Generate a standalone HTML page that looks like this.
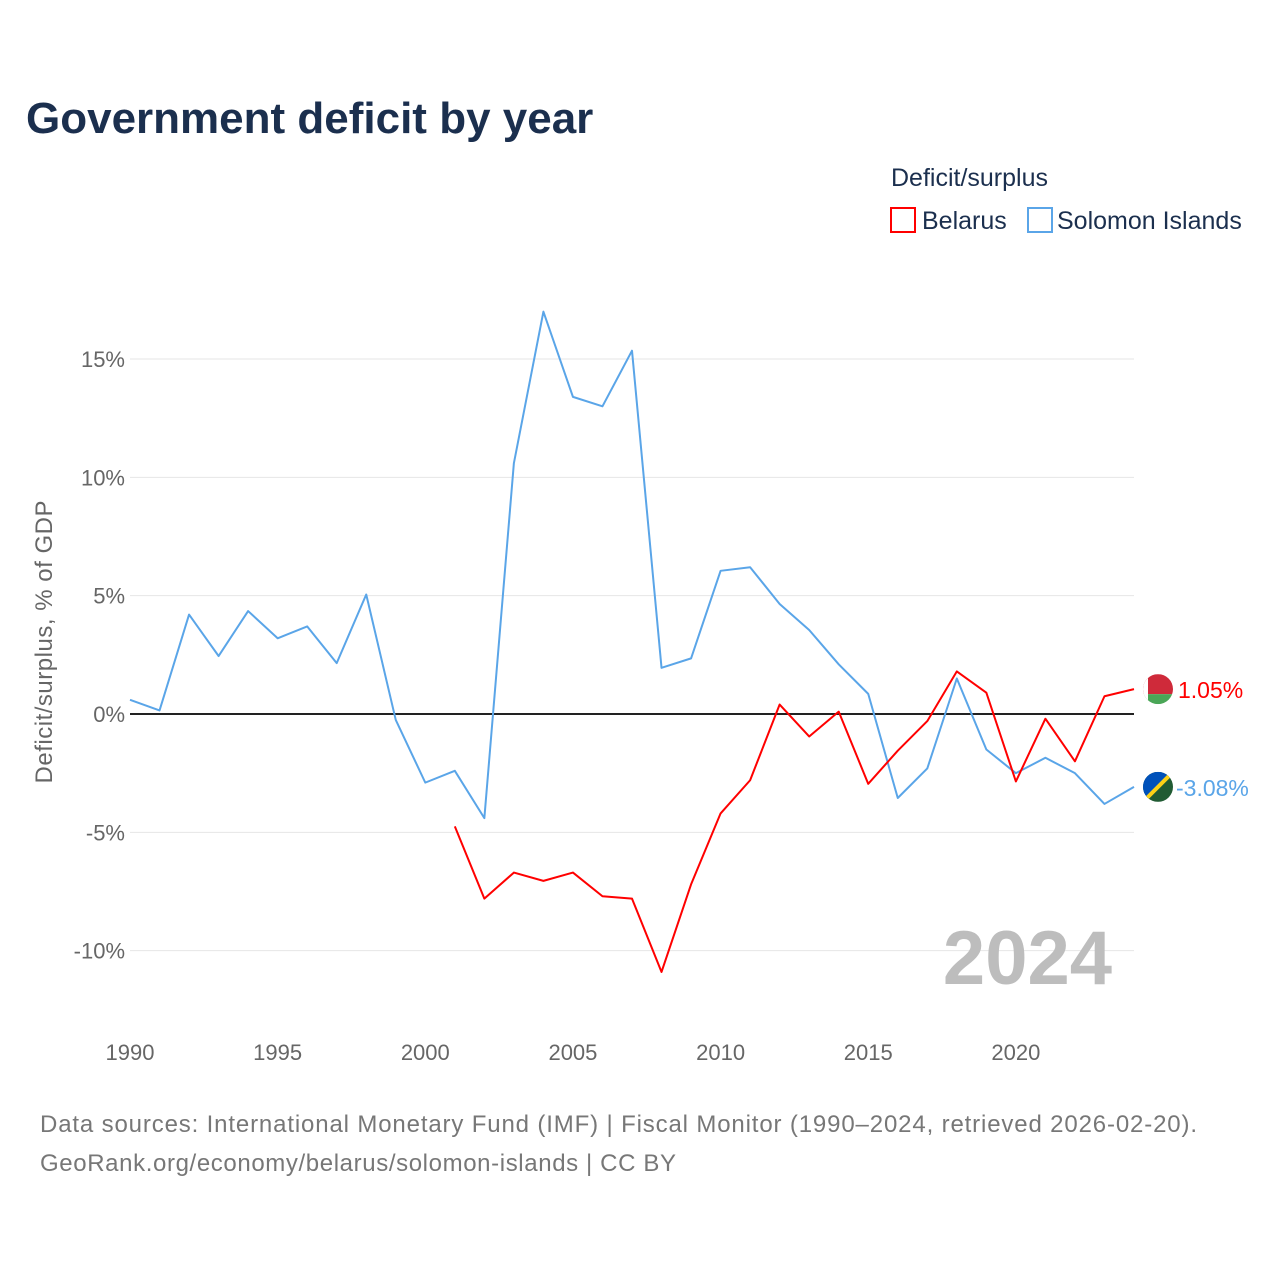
<!DOCTYPE html>
<html><head><meta charset="utf-8"><style>
body{margin:0;background:#fff;font-family:"Liberation Sans",sans-serif;}
svg text{font-family:"Liberation Sans",sans-serif;}
</style></head><body>
<svg id="chart" width="1280" height="1280" viewBox="0 0 1280 1280">
<text x="26" y="133" font-size="44" font-weight="bold" fill="#1b2f4e">Government deficit by year</text>
<text x="891" y="186" font-size="25" fill="#1b2f4e">Deficit/surplus</text>
<g><rect x="891" y="208" width="24" height="24" fill="none" stroke="#ff0000" stroke-width="2"/><text x="922" y="229" font-size="25" fill="#1b2f4e">Belarus</text></g>
<g><rect x="1028" y="208" width="24" height="24" fill="none" stroke="#5aa5e8" stroke-width="2"/><text x="1057" y="229" font-size="25" fill="#1b2f4e">Solomon Islands</text></g>
<g id="grid"></g>
<g id="yticks"></g>
<g id="xticks"></g>
<text transform="translate(52,642) rotate(-90)" text-anchor="middle" font-size="24" fill="#666" textLength="283">Deficit/surplus, % of GDP</text>
<text x="1112" y="984" text-anchor="end" font-size="76" font-weight="bold" fill="#bdbdbd">2024</text>
<g id="series"></g>
<text x="40" y="1132" font-size="24" fill="#777" textLength="1157">Data sources: International Monetary Fund (IMF) | Fiscal Monitor (1990–2024, retrieved 2026-02-20).</text>
<text x="40" y="1171" font-size="24" fill="#777" textLength="636">GeoRank.org/economy/belarus/solomon-islands | CC BY</text>
</svg>
<script>
const years=[];for(let y=1990;y<=2024;y++)years.push(y);
const solomon=[0.6,0.15,4.2,2.45,4.35,3.2,3.7,2.15,5.05,-0.25,-2.9,-2.4,-4.4,10.6,17.0,13.4,13.0,15.35,1.95,2.35,6.05,6.2,4.65,3.55,2.1,0.85,-3.55,-2.3,1.5,-1.5,-2.5,-1.85,-2.5,-3.8,-3.08];
const belarusYears=[2001,2002,2003,2004,2005,2006,2007,2008,2009,2010,2011,2012,2013,2014,2015,2016,2017,2018,2019,2020,2021,2022,2023,2024];
const belarus=[-4.75,-7.8,-6.7,-7.05,-6.7,-7.7,-7.8,-10.9,-7.2,-4.2,-2.8,0.4,-0.95,0.1,-2.95,-1.55,-0.3,1.8,0.9,-2.85,-0.2,-2.0,0.75,1.05];
const yTicks=[-10,-5,0,5,10,15];
const xTicks=[1990,1995,2000,2005,2010,2015,2020];
const X=y=>130+(y-1990)*(1134-130)/34;
const Y=v=>714-v*(355/15);
const NS="http://www.w3.org/2000/svg";
function mk(t,a,p){const e=document.createElementNS(NS,t);for(const k in a)e.setAttribute(k,a[k]);p.appendChild(e);return e;}
const grid=document.getElementById('grid'),yt=document.getElementById('yticks'),xt=document.getElementById('xticks'),ser=document.getElementById('series');
yTicks.forEach(v=>{
 const l=mk('line',{x1:130,x2:1134,y1:Y(v),y2:Y(v),stroke:v===0?'#222':'#e6e6e6','stroke-width':v===0?2:1},grid);
 
 
 const t=mk('text',{x:125,y:Y(v)+8,'text-anchor':'end','font-size':22,fill:'#666'},yt);t.textContent=v+'%';
 
 
});
xTicks.forEach(v=>{
 const t=mk('text',{x:X(v),y:1060,'text-anchor':'middle','font-size':22,fill:'#666'},xt);t.textContent=v;
 
 
});
function line(xs,vs,c,name){
 const p=mk('polyline',{points:xs.map((x,i)=>X(x)+','+Y(vs[i])).join(' '),fill:'none',stroke:c,'stroke-width':2,'stroke-linejoin':'round'},ser);
 
 
}
line(years,solomon,'#5aa5e8','solomon-islands-line');
line(belarusYears,belarus,'#ff0000','belarus-line');
const bl=belarus[belarus.length-1],sl=solomon[solomon.length-1];
const fx=1158;
const g1=mk('g',{},ser);


mk('clipPath',{id:'c1'},g1);mk('circle',{cx:fx,cy:Y(bl),r:15},g1.lastChild);
const gb=mk('g',{'clip-path':'url(#c1)'},g1);
mk('rect',{x:fx-15,y:Y(bl)-15,width:30,height:20,fill:'#cf2a3a'},gb);
mk('rect',{x:fx-15,y:Y(bl)+5,width:30,height:10,fill:'#4aa657'},gb);
mk('rect',{x:fx-15,y:Y(bl)-15,width:5,height:30,fill:'#fff'},gb);
const g2=mk('g',{},ser);


mk('clipPath',{id:'c2'},g2);mk('circle',{cx:fx,cy:Y(sl),r:15},g2.lastChild);
const gs=mk('g',{'clip-path':'url(#c2)'},g2);
mk('rect',{x:fx-15,y:Y(sl)-15,width:30,height:30,fill:'#215b33'},gs);
mk('polygon',{points:`${fx-15},${Y(sl)-15} ${fx+15},${Y(sl)-15} ${fx-15},${Y(sl)+15}`,fill:'#0051ba'},gs);
mk('line',{x1:fx-15,y1:Y(sl)+15,x2:fx+15,y2:Y(sl)-15,stroke:'#fcd116','stroke-width':4},gs);
const t1=mk('text',{x:1178,y:Y(bl)+9,'font-size':23,fill:'#ff0000'},ser);t1.textContent=bl.toFixed(2)+'%';


const t2=mk('text',{x:1176,y:Y(sl)+9,'font-size':23,fill:'#5aa5e8'},ser);t2.textContent=sl.toFixed(2)+'%';


</script>
</body></html>
